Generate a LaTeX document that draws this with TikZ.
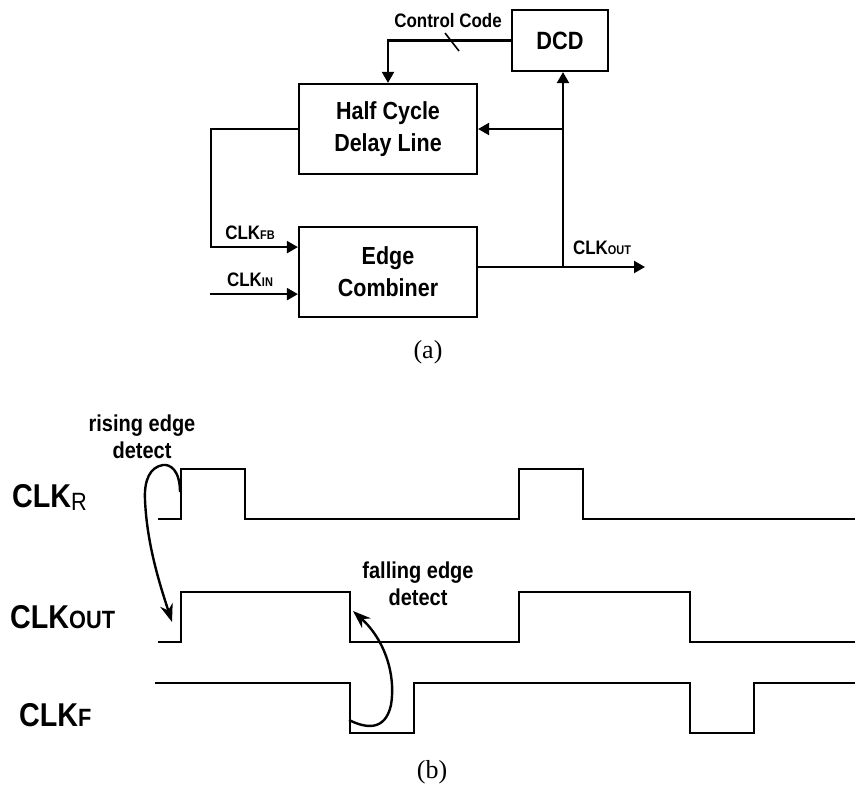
\documentclass[tikz,border=0pt]{standalone}
\usepackage{fontspec}
\setmainfont{Liberation Serif}
\setsansfont{Liberation Sans}[FakeStretch=0.87]
\usepackage{tikz}
\usetikzlibrary{arrows.meta,positioning,calc}

\newcommand{\subsm}[1]{{\fontsize{12.6}{12.6}\selectfont #1}}
\newcommand{\subbig}[1]{{\fontsize{25}{25}\selectfont #1}}

\tikzset{
  block/.style={draw, line width=2.2pt, minimum width=178pt, minimum height=90pt,
    align=center, font=\sffamily\bfseries\fontsize{24.7}{32}\selectfont},
  sig/.style={line width=2.2pt, -{Triangle[length=11pt,width=12pt]}},
  wave/.style={line width=2.2pt, line join=miter},
  lbl/.style={font=\sffamily\bfseries\fontsize{19.5}{19.5}\selectfont, inner sep=0pt},
  biglbl/.style={font=\sffamily\bfseries\fontsize{33}{33}\selectfont, inner sep=0pt, anchor=base west},
  note/.style={font=\sffamily\bfseries\fontsize{23}{27}\selectfont, align=center, inner sep=0pt},
  captext/.style={font=\rmfamily\fontsize{26}{26}\selectfont, inner sep=0pt},
  detect/.style={line width=2.4pt, -{Stealth[length=18pt,width=13pt]}}
}

\begin{document}
\begin{tikzpicture}[x=1pt, y=-1pt]
  \useasboundingbox (0,0) rectangle (855,787);

  % (a) block diagram
  \node[block] (hcdl) at (388,129) {Half Cycle\\Delay Line};
  \node[block] (ec) at (388,272) {Edge\\Combiner};
  \node[block, minimum width=96pt, minimum height=61pt,
        font=\sffamily\bfseries\fontsize{25}{25}\selectfont] (dcd) at (560,40.5) {DCD};

  \coordinate (out) at (645,267);
  \coordinate (jn) at (563,267);
  \coordinate (fbin) at ($(ec.north west)!0.23!(ec.south west)$);
  \coordinate (clkin) at ($(ec.north west)!0.74!(ec.south west)$);
  \coordinate (ctl) at (452,42);

  \draw[sig] (dcd.west) -| (hcdl.north);
  \draw[line width=1.6pt] ($(ctl)+(-7,-9)$) -- ($(ctl)+(7,9)$);
  \node[lbl] (ctllbl) at (448,21) {Control Code};

  \draw[sig] (ec.east |- out) -- (out);
  \draw[sig] (jn) -- (jn |- dcd.south);
  \draw[sig] (jn |- hcdl.east) -- (hcdl.east);
  \draw[sig] (hcdl.west) -- ++(-87,0) |- (fbin);
  \draw[sig] (clkin) ++(-88,0) -- (clkin);

  \node[lbl] (fblbl) at (250,233) {CLK\subsm{FB}};
  \node[lbl] (inlbl) at (250,280) {CLK\subsm{IN}};
  \node[lbl] (outlbl) at (602,248) {CLK\subsm{OUT}};
  \node[captext] (capa) at (428,352) {(a)};

  % (b) waveforms
  \node[biglbl] (lblr) at (12,507) {CLK\raisebox{-3pt}{\subbig{\mdseries R}}};
  \node[biglbl] (lblout) at (10,628) {CLK\subbig{OUT}};
  \node[biglbl] (lblf) at (19,726) {CLK\subbig{F}};

  \draw[wave] (158,519) -- (181,519) -- (181,469) -- (245,469) -- (245,519)
    -- (519,519) -- (519,469) -- (583,469) -- (583,519) -- (855,519);
  \draw[wave] (158,642) -- (181,642) -- (181,592) -- (350,592) -- (350,642)
    -- (519,642) -- (519,592) -- (690,592) -- (690,642) -- (855,642);
  \draw[wave] (155,683) -- (350,683) -- (350,733) -- (414,733) -- (414,683)
    -- (690,683) -- (690,733) -- (754,733) -- (754,683) -- (855,683);

  \node[note] (rise) at (142,437) {rising edge\\detect};
  \node[note] (fall) at (418,584) {falling edge\\detect};

  \draw[detect] (180,492) .. controls (180,470) and (170,464) .. (163,465)
    .. controls (150,467) and (144,480) .. (145,500)
    .. controls (147,545) and (160,585) .. (172,622);
  \draw[detect] (349,720) .. controls (365,728) and (385,732) .. (391,705)
    .. controls (396,675) and (385,640) .. (353,611);

  \node[captext] (capb) at (432,772) {(b)};
\end{tikzpicture}
\end{document}
